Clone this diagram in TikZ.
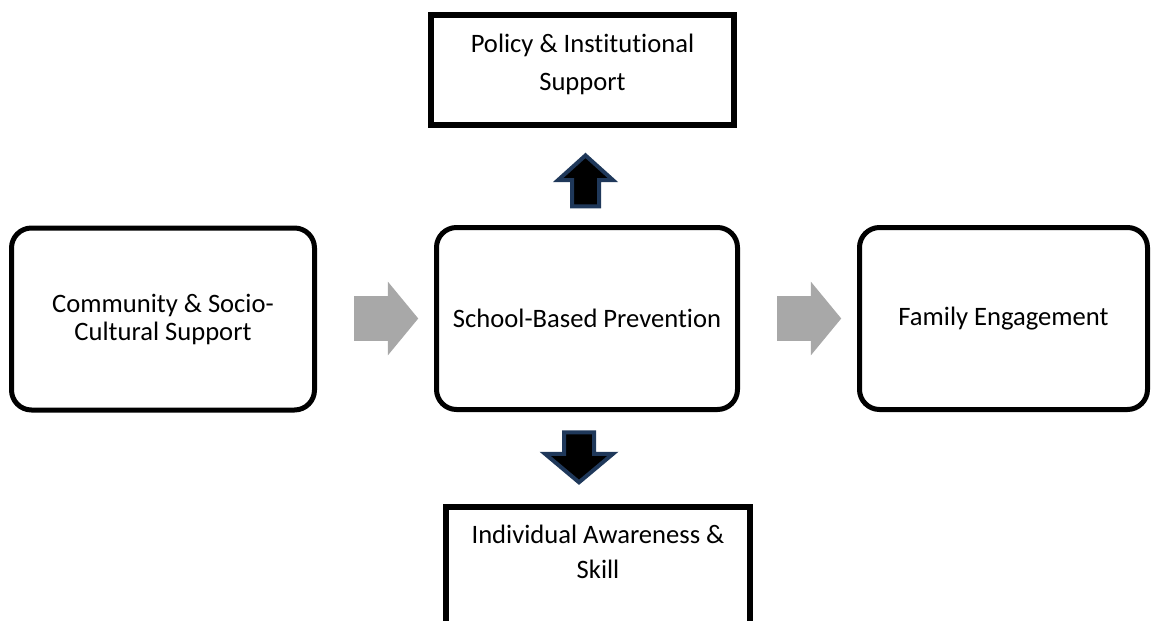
\documentclass[tikz,border=0pt]{standalone}
\usepackage{fontspec}
\setmainfont{Carlito}[Ligatures={TeX,NoCommon}]
\usetikzlibrary{positioning,shapes.arrows}
\definecolor{arrowgray}{RGB}{168,168,168}
\definecolor{arrownavy}{RGB}{31,56,90}

\begin{document}
\begin{tikzpicture}[
        x=0.5pt, y=-0.5pt,
        roundbox/.style={draw=black, line width=2.5pt, rounded corners=10pt, align=center, inner sep=0pt, minimum height=91pt},
        flatbox/.style={draw=black, line width=3pt, inner sep=0pt},
        boxtext/.style={align=center, inner sep=0pt},
        grayarrow/.style={single arrow, fill=arrowgray, draw=none, inner sep=11pt, minimum height=32pt, single arrow head extend=7.25pt, single arrow tip angle=101},
        darkarrow/.style={single arrow, fill=black, draw=arrownavy, line width=2pt},
        font=\fontsize{13.3}{14}\selectfont
    ]

    \useasboundingbox (0,0) rectangle (1152,621);

    % Middle row
    \node[roundbox, minimum width=151.5pt] (community) at (163,319) {Community \& Socio-\\Cultural Support};
    \node[roundbox, minimum width=150.5pt] (school) at (587,318.5) {School-Based Prevention};
    \node[roundbox, minimum width=144pt] (family) at (1003.5,318.5) {Family Engagement};

    % Top and bottom boxes
    \node[flatbox, minimum width=151.5pt, minimum height=55pt] (policy) at (582.5,70) {};
    \node[boxtext, font=\fontsize{13.3}{19}\selectfont] (policytext) at ([yshift=3pt]policy.center) {Policy \& Institutional\\Support};
    \node[flatbox, minimum width=152.25pt, minimum height=66.5pt] (indiv) at (598,573.5) {};
    \node[boxtext, font=\fontsize{13.3}{17.5}\selectfont] (indivtext) at ([yshift=-23.75pt]indiv.north) {Individual Awareness \&\\Skill};

    % Block arrows
    \node[grayarrow] (commtoschool) at (377,318.5) {};
    \node[grayarrow] (schooltofamily) at (800,318.5) {};
    \node[darkarrow, rotate=90, inner sep=5.75pt, minimum height=25.5pt, single arrow head extend=7pt, single arrow tip angle=96] (schooltopolicy) at (585.5,187) {};
    \node[darkarrow, rotate=-90, inner sep=6.5pt, minimum height=25pt, single arrow head extend=9.5pt, single arrow tip angle=100] (schooltoindiv) at (579,451) {};

\end{tikzpicture}
\end{document}
